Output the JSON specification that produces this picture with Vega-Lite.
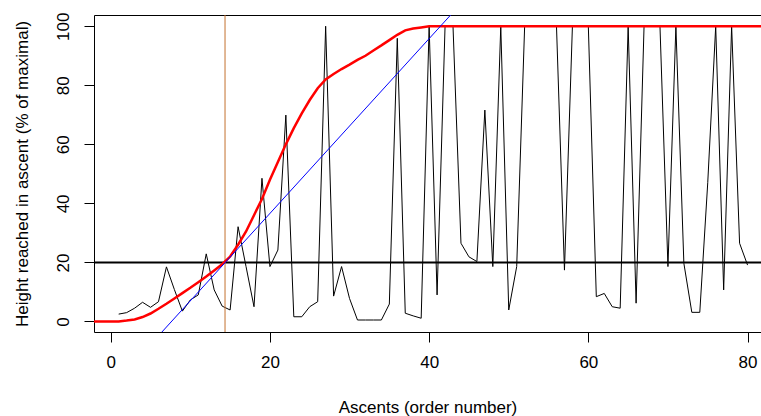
{
  "$schema": "https://vega.github.io/schema/vega-lite/v6.json",
  "width": 667,
  "height": 317,
  "autosize": {"type": "none"},
  "padding": {"left": 94, "top": 15, "right": 0, "bottom": 84},
  "background": "white",
  "config": {
    "view": {"stroke": null},
    "font": "Liberation Sans",
    "axis": {
      "grid": false,
      "domainColor": "black",
      "tickColor": "black",
      "labelColor": "black",
      "titleColor": "black",
      "labelFont": "Liberation Sans",
      "titleFont": "Liberation Sans",
      "labelFontSize": 17,
      "titleFontSize": 17,
      "titleFontWeight": "normal",
      "tickSize": 10,
      "domainWidth": 1,
      "tickWidth": 1
    }
  },
  "datasets": {
    "ascents": [
      {"ascent": 1, "height": 2.5}, {"ascent": 2, "height": 3.0}, {"ascent": 3, "height": 4.5}, {"ascent": 4, "height": 6.5},
      {"ascent": 5, "height": 4.8}, {"ascent": 6, "height": 6.7}, {"ascent": 7, "height": 18.5}, {"ascent": 8, "height": 10.8},
      {"ascent": 9, "height": 3.5}, {"ascent": 10, "height": 7.3}, {"ascent": 11, "height": 9.0}, {"ascent": 12, "height": 22.9},
      {"ascent": 13, "height": 10.7}, {"ascent": 14, "height": 5.2}, {"ascent": 15, "height": 3.9}, {"ascent": 16, "height": 32.1},
      {"ascent": 17, "height": 18.6}, {"ascent": 18, "height": 5.0}, {"ascent": 19, "height": 48.5}, {"ascent": 20, "height": 18.6},
      {"ascent": 21, "height": 24.2}, {"ascent": 22, "height": 69.9}, {"ascent": 23, "height": 1.6}, {"ascent": 24, "height": 1.6},
      {"ascent": 25, "height": 5.0}, {"ascent": 26, "height": 6.7}, {"ascent": 27, "height": 100}, {"ascent": 28, "height": 8.6},
      {"ascent": 29, "height": 18.6}, {"ascent": 30, "height": 7.8}, {"ascent": 31, "height": 0.5}, {"ascent": 32, "height": 0.5},
      {"ascent": 33, "height": 0.5}, {"ascent": 34, "height": 0.5}, {"ascent": 35, "height": 5.9}, {"ascent": 36, "height": 95.9},
      {"ascent": 37, "height": 2.8}, {"ascent": 38, "height": 1.9}, {"ascent": 39, "height": 1.1}, {"ascent": 40, "height": 100},
      {"ascent": 41, "height": 9.0}, {"ascent": 42, "height": 100}, {"ascent": 43, "height": 100}, {"ascent": 44, "height": 26.5},
      {"ascent": 45, "height": 21.9}, {"ascent": 46, "height": 20.3}, {"ascent": 47, "height": 71.6}, {"ascent": 48, "height": 18.6},
      {"ascent": 49, "height": 100}, {"ascent": 50, "height": 3.9}, {"ascent": 51, "height": 18.6}, {"ascent": 52, "height": 100},
      {"ascent": 53, "height": 100}, {"ascent": 54, "height": 100}, {"ascent": 55, "height": 100}, {"ascent": 56, "height": 100},
      {"ascent": 57, "height": 17.4}, {"ascent": 58, "height": 100}, {"ascent": 59, "height": 100}, {"ascent": 60, "height": 100},
      {"ascent": 61, "height": 8.4}, {"ascent": 62, "height": 9.5}, {"ascent": 63, "height": 5.0}, {"ascent": 64, "height": 4.5},
      {"ascent": 65, "height": 100}, {"ascent": 66, "height": 6.2}, {"ascent": 67, "height": 100}, {"ascent": 68, "height": 100},
      {"ascent": 69, "height": 100}, {"ascent": 70, "height": 18.6}, {"ascent": 71, "height": 100}, {"ascent": 72, "height": 19.7},
      {"ascent": 73, "height": 3.1}, {"ascent": 74, "height": 3.1}, {"ascent": 75, "height": 47}, {"ascent": 76, "height": 100},
      {"ascent": 77, "height": 10.7}, {"ascent": 78, "height": 100}, {"ascent": 79, "height": 26.5}, {"ascent": 80, "height": 19.1}
    ],
    "smooth": [
      {"ascent": -3, "height": 0}, {"ascent": 0, "height": 0}, {"ascent": 1, "height": 0}, {"ascent": 2, "height": 0.3},
      {"ascent": 3, "height": 0.7}, {"ascent": 4, "height": 1.5}, {"ascent": 5, "height": 2.7}, {"ascent": 6, "height": 4.3},
      {"ascent": 7, "height": 6.0}, {"ascent": 8, "height": 7.8}, {"ascent": 9, "height": 9.6}, {"ascent": 10, "height": 11.4},
      {"ascent": 11, "height": 13.3}, {"ascent": 12, "height": 15.2}, {"ascent": 13, "height": 17.3}, {"ascent": 14, "height": 19.4},
      {"ascent": 15, "height": 22.0}, {"ascent": 16, "height": 26.0}, {"ascent": 17, "height": 30.5}, {"ascent": 18, "height": 36.0},
      {"ascent": 19, "height": 41.5}, {"ascent": 20, "height": 48.0}, {"ascent": 21, "height": 54.0}, {"ascent": 22, "height": 60.0},
      {"ascent": 23, "height": 65.5}, {"ascent": 24, "height": 70.5}, {"ascent": 25, "height": 75.0}, {"ascent": 26, "height": 79.0},
      {"ascent": 27, "height": 82.0}, {"ascent": 28, "height": 83.8}, {"ascent": 29, "height": 85.5}, {"ascent": 30, "height": 87.0},
      {"ascent": 31, "height": 88.6}, {"ascent": 32, "height": 90.0}, {"ascent": 33, "height": 91.8}, {"ascent": 34, "height": 93.5},
      {"ascent": 35, "height": 95.3}, {"ascent": 36, "height": 97.1}, {"ascent": 37, "height": 98.6}, {"ascent": 38, "height": 99.2},
      {"ascent": 39, "height": 99.6}, {"ascent": 40, "height": 100}, {"ascent": 84, "height": 100}
    ],
    "trend": [
      {"ascent": 5, "height": -7.8},
      {"ascent": 45, "height": 110.6}
    ],
    "threshold": [{"height": 20}],
    "crossing": [{"ascent": 14.36}]
  },
  "resolve": {"axis": {"x": "independent"}},
  "layer": [
    {
      "data": {"name": "ascents"},
      "mark": {"type": "line", "color": "black", "strokeWidth": 1, "clip": true},
      "encoding": {
        "x": {
          "field": "ascent", "type": "quantitative",
          "scale": {"domain": [-2.1, 81.69], "nice": false, "zero": false},
          "axis": {"orient": "bottom", "values": [0, 20, 40, 60, 80], "labelPadding": 12, "title": "Ascents (order number)", "titlePadding": 29, "labelFlush": false}
        },
        "y": {
          "field": "height", "type": "quantitative",
          "scale": {"domain": [-3.56, 103.8], "nice": false, "zero": false},
          "axis": {"values": [0, 20, 40, 60, 80, 100], "labelAngle": -90, "labelAlign": "center", "labelBaseline": "alphabetic", "labelPadding": 16, "title": "Height reached in ascent (% of maximal)", "titlePadding": 23, "labelFlush": false}
        }
      }
    },
    {
      "data": {"name": "threshold"},
      "mark": {"type": "rule", "color": "black", "strokeWidth": 2},
      "encoding": {"y": {"field": "height", "type": "quantitative"}}
    },
    {
      "data": {"name": "crossing"},
      "mark": {"type": "rule", "color": "#C4702E", "strokeWidth": 1},
      "encoding": {
        "x": {
          "field": "ascent", "type": "quantitative",
          "axis": {"orient": "top", "labels": false, "ticks": false, "title": null, "domain": true}
        }
      }
    },
    {
      "data": {"name": "smooth"},
      "mark": {"type": "line", "color": "red", "strokeWidth": 2.5, "clip": true},
      "encoding": {
        "x": {"field": "ascent", "type": "quantitative", "axis": null},
        "y": {"field": "height", "type": "quantitative"}
      }
    },
    {
      "data": {"name": "trend"},
      "mark": {"type": "line", "color": "blue", "strokeWidth": 1, "clip": true},
      "encoding": {
        "x": {"field": "ascent", "type": "quantitative", "axis": null},
        "y": {"field": "height", "type": "quantitative"}
      }
    }
  ]
}
